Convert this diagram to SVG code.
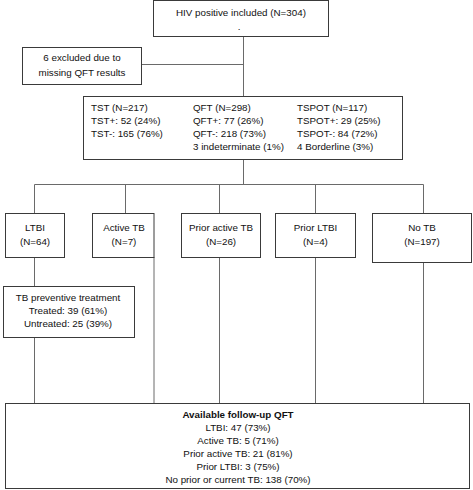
<svg xmlns="http://www.w3.org/2000/svg" width="473" height="490" viewBox="0 0 473 490">
<style>
.b{fill:#fff;stroke:#3a3a3a;stroke-width:1}
.c{fill:none;stroke:#6a6a6a;stroke-width:1}
text{font-family:"Liberation Sans",Arial,sans-serif;font-size:9.8px;fill:#111}
.m{text-anchor:middle}
.bold{font-weight:bold}
</style>
<rect width="473" height="490" fill="#fff"/>
<g id="connectors">
<path class="c" d="M243.5 36V96M141 64.5H243.5M243.5 159V184.5M34.5 184.5H423.5M34.5 184.5V213M125.5 184.5V213M219.5 184.5V213M315.5 184.5V213M423.5 184.5V213"/>
<path class="c" d="M34.5 257V287M34.5 337V403M154 257V403M219.5 257V403M315.5 257V403M423.5 262V403"/>
</g>
<g id="n-hiv"><rect class="b" x="153.5" y="0.5" width="175" height="36"/>
<text class="m" x="241" y="15.5">HIV positive included (N=304)</text><text class="m" x="239" y="30">.</text></g>
<g id="n-excluded"><rect class="b" x="22.5" y="47.5" width="119" height="37"/>
<text class="m" x="82" y="61">6 excluded due to</text><text class="m" x="82" y="76">missing QFT results</text></g>
<g id="n-tests"><rect class="b" x="83.5" y="96.5" width="319" height="63"/>
<text x="91" y="111">TST (N=217)</text><text x="91" y="124">TST+: 52 (24%)</text><text x="91" y="137">TST-: 165 (76%)</text>
<text x="193" y="111">QFT (N=298)</text><text x="193" y="124">QFT+: 77 (26%)</text><text x="193" y="137">QFT-: 218 (73%)</text><text x="193" y="150">3 indeterminate (1%)</text>
<text x="297" y="111">TSPOT (N=117)</text><text x="297" y="124">TSPOT+: 29 (25%)</text><text x="297" y="137">TSPOT-: 84 (72%)</text><text x="297" y="150">4 Borderline (3%)</text></g>
<g id="n-ltbi"><rect class="b" x="5.5" y="213.5" width="59" height="44"/>
<text class="m" x="35" y="230.5">LTBI</text><text class="m" x="35" y="245">(N=64)</text></g>
<g id="n-active"><rect class="b" x="92.5" y="213.5" width="61.5" height="44"/>
<text class="m" x="124" y="230.5">Active TB</text><text class="m" x="124" y="245">(N=7)</text></g>
<g id="n-prioractive"><rect class="b" x="181.5" y="213.5" width="79" height="44"/>
<text class="m" x="221" y="230.5">Prior active TB</text><text class="m" x="221" y="245">(N=26)</text></g>
<g id="n-priorltbi"><rect class="b" x="275.5" y="213.5" width="80" height="44"/>
<text class="m" x="315.5" y="230.5">Prior LTBI</text><text class="m" x="315.5" y="245">(N=4)</text></g>
<g id="n-notb"><rect class="b" x="372.5" y="213.5" width="99" height="49"/>
<text class="m" x="422" y="230.5">No TB</text><text class="m" x="422" y="245">(N=197)</text></g>
<g id="n-preventive"><rect class="b" x="3.5" y="286.5" width="131" height="51"/>
<text class="m" x="68" y="301">TB preventive treatment</text><text class="m" x="68" y="314">Treated: 39 (61%)</text><text class="m" x="68" y="327">Untreated: 25 (39%)</text></g>
<g id="n-followup"><rect class="b" x="5.5" y="403.5" width="464" height="85"/>
<text class="m bold" x="238" y="417.5">Available follow-up QFT</text>
<text class="m" x="238" y="430.5">LTBI: 47 (73%)</text>
<text class="m" x="238" y="443.5">Active TB: 5 (71%)</text>
<text class="m" x="238" y="456.5">Prior active TB: 21 (81%)</text>
<text class="m" x="238" y="469.5">Prior LTBI: 3 (75%)</text>
<text class="m" x="238" y="482.5">No prior or current TB: 138 (70%)</text></g>
</svg>
